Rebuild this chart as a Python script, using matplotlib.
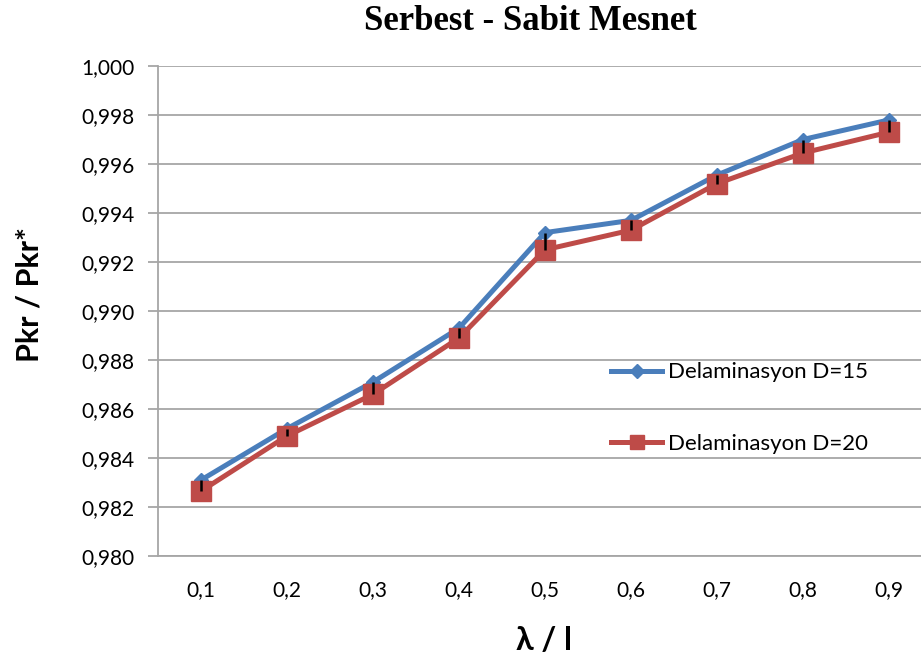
import numpy as np
import matplotlib
matplotlib.use("Agg")
import matplotlib.pyplot as plt
from matplotlib.ticker import FuncFormatter

# veriler
categories = ["0,1", "0,2", "0,3", "0,4", "0,5", "0,6", "0,7", "0,8", "0,9"]
d15 = [0.9831, 0.9852, 0.9871, 0.9893, 0.9932, 0.9937, 0.99555, 0.9970, 0.9978]
d20 = [0.98265, 0.9849, 0.9866, 0.9889, 0.9925, 0.9933, 0.9952, 0.99645, 0.9973]
labels = ["Delaminasyon D=15", "Delaminasyon D=20"]
yticks = np.arange(0.980, 1.0001, 0.002)

plt.rcParams['font.family'] = ['Lato', 'DejaVu Sans']

fig = plt.figure(figsize=(9.21, 6.6), dpi=100)
ax = fig.add_axes([158/921, 1 - 556/660, 774/921, 490/660])

x = np.arange(len(categories))

ax.plot(x, d15, color='#4A7EBB', lw=3.6, marker='D', ms=7.5,
        label=labels[0], zorder=3)
ax.plot(x, d20, color='#BE4B48', lw=3.6, marker='s', ms=14,
        label=labels[1], zorder=4)

# high-low cizgileri
ax.vlines(x, d20, d15, color='black', lw=1.8, zorder=5)

ax.set_xlim(-0.5, len(categories) - 0.5)
ax.set_ylim(0.980, 1.000)
ax.set_yticks(yticks)
ax.yaxis.set_major_formatter(FuncFormatter(lambda v, p: f"{v:.3f}".replace('.', ',')))
ax.set_xticks(x)
ax.set_xticklabels(categories)

ax.grid(axis='y', color='#a6a6a6', lw=1.3)
ax.set_axisbelow(True)
for s in ['top', 'right']:
    ax.spines[s].set_visible(False)
ax.spines['left'].set_color('#a6a6a6')
ax.spines['bottom'].set_color('#a6a6a6')
ax.spines['left'].set_linewidth(1.3)
ax.spines['bottom'].set_linewidth(1.3)

ax.tick_params(axis='y', length=7, width=1.3, color='#a6a6a6', labelsize=15, pad=10)
ax.tick_params(axis='x', length=0, labelsize=15, pad=17)

fig.text(530/921, 1 - 22/660, "Serbest - Sabit Mesnet", ha='center', va='center',
         fontsize=25, fontweight='bold', family='Liberation Serif')
fig.text(544/921, 1 - 640/660, "λ / l", ha='center', va='center',
         fontsize=23, fontweight='bold')
fig.text(29/921, 1 - 294/660, "Pkr / Pkr*", ha='center', va='center',
         fontsize=22, fontweight='bold', rotation=90)

leg = ax.legend(loc='center left', bbox_to_anchor=(611/921, 1 - 408/660),
                bbox_transform=fig.transFigure, frameon=False, fontsize=16,
                borderpad=0, borderaxespad=0, handlelength=2.3, handletextpad=0.25,
                labelspacing=2.3)
leg.legend_handles[1].set_markersize(10)

fig.savefig("out.png", dpi=100)
